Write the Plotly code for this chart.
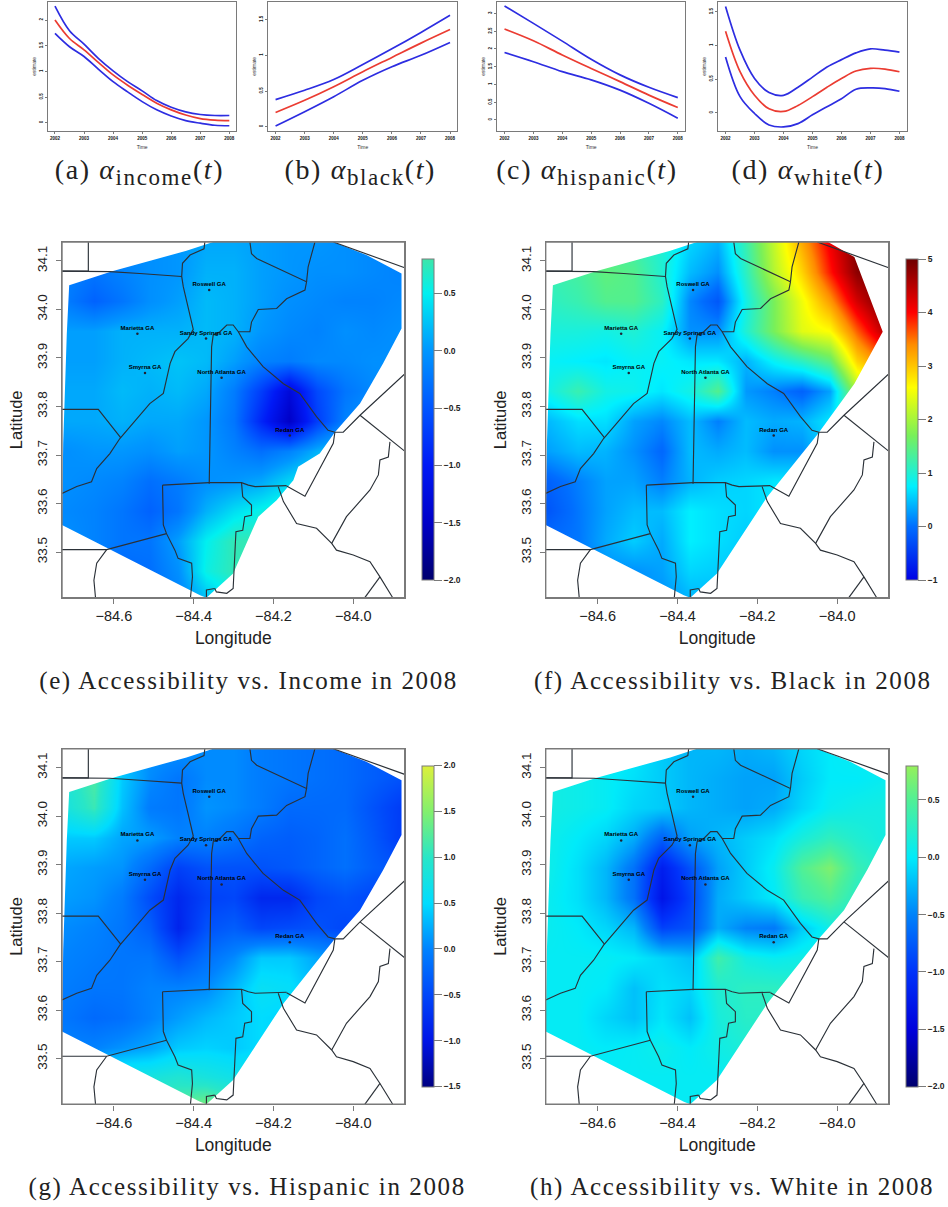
import plotly.graph_objects as go

# ---------------- top row: coefficient curves ----------------
years_half = [2002, 2002.5, 2003, 2003.5, 2004, 2004.5, 2005, 2005.5, 2006, 2006.5, 2007, 2007.5, 2008]
years = [2002, 2003, 2004, 2005, 2006, 2007, 2008]

income_upper = [2.27, 1.79, 1.53, 1.25, 1.01, .80, .62, .43, .30, .21, .16, .14, .14]
income_mean = [2.0, 1.64, 1.42, 1.17, .93, .73, .55, .38, .25, .15, .08, .05, .04]
income_lower = [1.74, 1.48, 1.29, 1.04, .80, .60, .41, .25, .13, .04, -.01, -.05, -.06]

black_upper = [.38, .51, .66, .87, 1.09, 1.32, 1.56]
black_mean = [.20, .37, .56, .77, .97, 1.17, 1.36]
black_lower = [.01, .21, .42, .65, .84, 1.0, 1.18]

hispanic_upper = [3.21, 2.72, 2.22, 1.71, 1.27, .92, .63]
hispanic_mean = [2.56, 2.23, 1.83, 1.45, 1.08, .70, .35]
hispanic_lower = [1.90, 1.64, 1.36, 1.13, .84, .47, .05]

white_upper = [1.58, .93, .51, .30, .26, .38, .53, .68, .79, .89, .95, .93, .90]
white_mean = [1.21, .61, .26, .06, .02, .11, .24, .38, .51, .62, .66, .65, .61]
white_lower = [.83, .24, -.01, -.18, -.21, -.16, -.03, .09, .21, .35, .37, .36, .32]

# ---------------- surfaces: values read on a coarse lon/lat grid ----------------
grid_lon = [-84.72, -84.65, -84.58, -84.51, -84.44, -84.37, -84.30, -84.23, -84.16, -84.09, -84.02, -83.95, -83.88]
grid_lat = [34.14, 34.078, 34.017, 33.955, 33.893, 33.832, 33.77, 33.708, 33.647, 33.585, 33.523, 33.462, 33.40]

z_income = [
    [-.05, -.1, -.1, -.05, 0, .1, .1, .05, 0, 0, -.05, -.1, -.15],
    [-.15, -.25, -.15, -.05, 0, .15, .15, .05, 0, -.05, -.05, -.1, -.15],
    [-.2, -.4, -.25, -.05, .05, .2, .15, .05, -.05, -.1, -.15, -.15, -.1],
    [.05, .05, .15, .15, .15, .2, .15, 0, -.1, -.15, -.05, -.1, -.05],
    [.05, .05, .15, .2, .25, .2, .05, -.15, -.2, -.1, -.1, -.05, -.05],
    [.1, .1, .2, .15, .2, .1, -.2, -.7, -1.3, -.6, -.25, -.1, .05],
    [.1, .1, .15, .1, .1, 0, -.25, -.9, -1.5, -.7, -.15, .05, .05],
    [-.05, 0, 0, -.05, .05, 0, -.15, -.3, -.15, .15, .35, .35, .35],
    [-.05, -.1, -.15, -.3, -.2, -.05, 0, .1, .35, .55, .55, .55, .55],
    [-.1, -.15, -.25, -.4, -.25, .15, .4, .55, .7, .75, .75, .75, .75],
    [-.05, -.15, -.25, -.25, .05, .5, .75, .75, .75, .75, .75, .75, .75],
    [-.05, -.15, -.35, -.3, -.05, .55, .75, .75, .75, .75, .75, .75, .75],
    [-.05, -.15, -.35, -.3, -.15, .2, .5, .75, .75, .75, .75, .75, .75],
]
z_black = [
    [1.3, 1.3, 1.3, 1.2, 1.0, .6, .4, 1.2, 2.2, 3.2, 4.1, 4.9, 5.0],
    [1.2, 1.3, 1.5, 1.4, 1.0, .45, .2, 1.1, 2.1, 2.9, 3.9, 4.8, 5.0],
    [1.1, 1.2, 1.4, 1.4, 1.1, .15, -.2, .9, 1.7, 2.5, 3.3, 4.3, 5.0],
    [.95, .95, .9, 1.0, .8, .2, .2, 1.0, 1.7, 2.4, 2.6, 3.6, 4.5],
    [.8, .75, .7, .8, .8, .7, .7, .4, .8, 1.1, 1.5, 2.9, 3.5],
    [.9, 1.2, .9, .85, .7, .9, 1.4, .25, .1, -.1, .3, 2.0, 2.4],
    [.45, .65, .65, .3, .15, .45, .1, .45, .35, .4, .7, 1.2, 1.5],
    [.3, .45, .4, .2, -.05, .45, .35, .45, .2, .2, .65, 1.0, 1.0],
    [-.1, .1, .3, .3, .1, .4, .55, .6, .7, .7, .7, .7, .7],
    [-.2, .05, .3, .45, .45, .75, .65, .6, .7, .7, .7, .7, .7],
    [0, .05, .35, .55, .35, .75, .65, .55, .6, .6, .6, .6, .6],
    [0, .05, .2, .2, .3, .6, .55, .5, .5, .5, .5, .5, .5],
    [.1, .1, .2, .2, .2, .4, .45, .5, .5, .5, .5, .5, .5],
]
z_hispanic = [
    [.8, 1.0, .3, .1, .1, .05, .05, -.05, -.1, -.15, -.2, -.3, -.4],
    [.9, 1.2, .4, .05, -.1, .05, .05, -.05, -.1, -.15, -.2, -.3, -.4],
    [.8, 1.1, .35, -.05, -.1, .1, .05, -.05, -.2, -.2, -.2, -.4, -.6],
    [.4, .4, .2, .15, 0, 0, -.1, -.25, -.3, -.25, -.15, -.35, -.6],
    [.2, .15, .1, -.2, -.55, -.4, -.4, -.4, -.35, -.25, -.15, -.3, -.4],
    [.15, .1, -.05, -.45, -.8, -.55, -.5, -.8, -.8, -.5, -.4, -.5, -.4],
    [.05, 0, -.1, -.3, -.85, -.4, -.3, -.5, -.45, -.4, -.5, -.4, -.3],
    [0, -.05, -.1, -.1, -.4, -.15, .05, .4, .4, .2, .1, .1, .1],
    [-.05, -.1, -.1, 0, 0, .05, .3, .6, .55, .3, .2, .2, .2],
    [-.1, -.2, -.15, 0, .15, .3, .4, .5, .45, .4, .4, .4, .4],
    [0, 0, .1, .2, .4, .45, .4, .5, .5, .5, .5, .5, .5],
    [.6, .6, .8, .8, .9, .8, .7, .8, .8, .8, .8, .8, .8],
    [1.0, 1.0, 1.2, 1.2, 1.3, 1.5, 1.2, 1.0, 1.0, 1.0, 1.0, 1.0, 1.0],
]
z_white = [
    [.12, .08, .03, 0, -.15, -.25, -.25, -.3, -.25, -.1, 0, .05, .05],
    [.12, .08, .03, -.05, -.15, -.25, -.3, -.35, -.35, -.15, 0, 0, .05],
    [.12, .08, .03, -.1, -.15, -.25, -.3, -.35, -.3, -.1, .05, .1, .12],
    [.08, 0, -.1, -.3, -.7, -.35, -.25, -.15, -.05, .15, .3, .2, .12],
    [.08, -.05, -.25, -.6, -1.2, -.8, -.35, -.15, .05, .5, .7, .35, .2],
    [.05, -.05, -.25, -.6, -1.3, -.9, -.3, -.15, 0, .35, .5, .25, .12],
    [.05, 0, -.1, -.25, -.9, -.8, -.3, -.5, -.55, -.15, .1, .12, .08],
    [.03, .03, .03, 0, -.1, -.2, .4, .12, .05, .1, .12, .12, .12],
    [.03, .03, 0, -.2, -.05, -.1, .2, .28, .28, .22, .22, .22, .22],
    [.03, .03, -.1, -.2, -.02, -.2, .15, .25, .25, .25, .25, .25, .25],
    [.03, .03, 0, .03, .08, 0, .1, .18, .22, .22, .22, .22, .22],
    [.03, .03, .03, .03, .03, .03, .03, .08, .12, .12, .12, .12, .12],
    [.03, .03, .03, .03, .03, .03, .03, .08, .12, .12, .12, .12, .12],
]

# outline of the region that has data
region_lon = [-84.712, -84.602, -84.418, -84.351, -84.050, -83.967, -83.879, -83.879, -83.925, -83.983, -84.046,
              -84.175, -84.301, -84.368, -84.384, -84.730, -84.727, -84.718]
region_lat = [34.050, 34.079, 34.121, 34.139, 34.139, 34.112, 34.074, 33.961, 33.889, 33.806, 33.747,
              33.614, 33.456, 33.406, 33.411, 33.556, 33.724, 33.950]
region_income_lon = [-84.712, -84.602, -84.418, -84.351, -84.050, -83.967, -83.879, -83.879, -83.925, -83.983, -84.046,
                     -84.084, -84.138, -84.150, -84.192, -84.238, -84.301, -84.368, -84.384, -84.730, -84.727, -84.718]
region_income_lat = [34.050, 34.079, 34.121, 34.139, 34.139, 34.112, 34.074, 33.961, 33.889, 33.806, 33.747,
                     33.703, 33.676, 33.648, 33.607, 33.573, 33.456, 33.406, 33.411, 33.556, 33.724, 33.950]
region_black_lon = [-84.712, -84.602, -84.418, -84.351, -84.023, -83.957, -83.886, -83.957, -84.048,
                    -84.175, -84.301, -84.368, -84.384, -84.730, -84.727, -84.718]
region_black_lat = [34.050, 34.079, 34.121, 34.139, 34.139, 34.108, 33.954, 33.847, 33.744,
                    33.614, 33.456, 33.406, 33.411, 33.556, 33.724, 33.950]

# county boundaries (lon, lat) as separate polylines
county_lines = [
    [(-84.664, 34.139), (-84.664, 34.079), (-84.730, 34.079)],
    [(-84.730, 34.079), (-84.610, 34.078), (-84.535, 34.074), (-84.430, 34.068)],
    [(-84.372, 34.139), (-84.374, 34.125), (-84.409, 34.112), (-84.428, 34.095), (-84.430, 34.068), (-84.426, 34.047),
     (-84.414, 34.005), (-84.401, 33.959), (-84.414, 33.940), (-84.447, 33.913), (-84.459, 33.889), (-84.468, 33.854),
     (-84.476, 33.827), (-84.510, 33.806), (-84.539, 33.779), (-84.568, 33.751), (-84.585, 33.734), (-84.610, 33.703),
     (-84.643, 33.672), (-84.656, 33.645), (-84.693, 33.635), (-84.730, 33.621)],
    [(-84.730, 33.794), (-84.639, 33.794), (-84.583, 33.736)],
    [(-84.259, 34.139), (-84.255, 34.115), (-84.242, 34.105), (-84.117, 34.057), (-84.121, 34.040), (-84.167, 34.022),
     (-84.192, 34.002), (-84.238, 34.000), (-84.255, 33.974), (-84.259, 33.954), (-84.288, 33.954), (-84.301, 33.968),
     (-84.317, 33.968), (-84.334, 33.954), (-84.351, 33.947), (-84.355, 33.923), (-84.361, 33.641)],
    [(-84.096, 34.139), (-84.113, 34.088), (-84.117, 34.057)],
    [(-84.050, 34.139), (-83.871, 34.086)],
    [(-84.288, 33.954), (-84.267, 33.923), (-84.226, 33.882), (-84.175, 33.847), (-84.134, 33.827), (-84.092, 33.779),
     (-84.063, 33.751), (-84.046, 33.747), (-84.025, 33.747), (-83.983, 33.782), (-83.871, 33.867)],
    [(-83.983, 33.782), (-83.871, 33.708)],
    [(-84.046, 33.747), (-84.050, 33.724), (-84.121, 33.615), (-84.167, 33.636)],
    [(-84.478, 33.638), (-84.361, 33.643), (-84.280, 33.643), (-84.263, 33.638), (-84.246, 33.635), (-84.167, 33.637)],
    [(-84.478, 33.638), (-84.476, 33.556), (-84.468, 33.538), (-84.447, 33.504), (-84.439, 33.487), (-84.405, 33.477),
     (-84.403, 33.449), (-84.408, 33.406)],
    [(-84.280, 33.643), (-84.277, 33.614), (-84.255, 33.597), (-84.255, 33.576), (-84.272, 33.573), (-84.277, 33.545),
     (-84.294, 33.542), (-84.297, 33.477), (-84.301, 33.425), (-84.317, 33.415), (-84.343, 33.418), (-84.347, 33.425)],
    [(-84.347, 33.425), (-84.368, 33.422), (-84.368, 33.406)],
    [(-84.730, 33.505), (-84.618, 33.505), (-84.468, 33.538)],
    [(-84.618, 33.505), (-84.643, 33.477), (-84.650, 33.442), (-84.646, 33.406)],
    [(-84.188, 33.635), (-84.175, 33.604), (-84.142, 33.559), (-84.092, 33.549), (-84.054, 33.518), (-84.042, 33.504),
     (-84.000, 33.494), (-83.958, 33.480), (-83.933, 33.449), (-83.901, 33.406)],
    [(-84.054, 33.518), (-84.017, 33.573), (-83.958, 33.628), (-83.937, 33.659), (-83.933, 33.690), (-83.912, 33.696),
     (-83.908, 33.727)],
    [(-83.933, 33.449), (-83.971, 33.406)],
]

city_names = ["Roswell GA", "Marietta GA", "Sandy Springs GA", "Smyrna GA", "North Atlanta GA", "Redan GA"]
city_lon = [-84.361, -84.541, -84.369, -84.522, -84.330, -84.159]
city_lat = [34.040, 33.950, 33.940, 33.869, 33.859, 33.740]

# colour bars: (value, colour) pairs
scale_income = [(-2.0, "rgb(0,0,110)"), (-1.5, "rgb(0,0,200)"), (-1.0, "rgb(0,25,245)"), (-0.5, "rgb(0,85,255)"),
                (0.0, "rgb(0,150,255)"), (0.5, "rgb(0,240,240)"), (0.8, "rgb(60,230,170)")]
scale_black = [(-1.0, "rgb(0,0,230)"), (0.0, "rgb(0,110,255)"), (0.75, "rgb(0,240,255)"), (1.7, "rgb(120,240,90)"),
               (2.6, "rgb(255,255,0)"), (3.4, "rgb(255,140,0)"), (4.0, "rgb(255,0,0)"), (5.0, "rgb(110,0,0)")]
scale_hispanic = [(-1.5, "rgb(0,0,130)"), (-1.0, "rgb(0,20,230)"), (-0.5, "rgb(0,70,250)"), (0.0, "rgb(0,130,255)"),
                  (0.5, "rgb(0,220,255)"), (1.0, "rgb(40,230,200)"), (1.5, "rgb(130,240,110)"), (2.0, "rgb(220,240,60)")]
scale_white = [(-2.0, "rgb(0,0,110)"), (-1.5, "rgb(0,0,220)"), (-1.0, "rgb(0,50,250)"), (-0.5, "rgb(0,130,250)"),
               (0.0, "rgb(0,235,250)"), (0.5, "rgb(80,240,150)"), (0.8, "rgb(150,240,90)")]

SUB = "<sub><span style='font-size:23px'>%s</span></sub>"
captions_top = ["(a) <i>α</i>" + SUB % "income" + "(<i>t</i>)", "(b) <i>α</i>" + SUB % "black" + "(<i>t</i>)",
                "(c) <i>α</i>" + SUB % "hispanic" + "(<i>t</i>)", "(d) <i>α</i>" + SUB % "white" + "(<i>t</i>)"]
captions_map = ["(e) Accessibility vs. Income in 2008", "(f) Accessibility vs. Black in 2008",
                "(g) Accessibility vs. Hispanic in 2008", "(h) Accessibility vs. White in 2008"]

# ---------------- layout helpers ----------------
W, H = 948, 1207
GREY = "#7a7a7a"
INK = "#222222"
SANS = "Liberation Sans"
SERIF = "Liberation Serif"


def px(x):
    return x / W


def py(y):
    return 1 - y / H


fig = go.Figure()
layout = dict(
    width=W, height=H, margin=dict(l=0, r=0, t=0, b=0), paper_bgcolor="white", plot_bgcolor="white",
    showlegend=False, annotations=[], shapes=[],
)


def axis_names(i):
    s = "" if i == 1 else str(i)
    return "x" + s, "y" + s, "xaxis" + s, "yaxis" + s


# top panels
panels = [
    (48.3, 236.0, years_half, income_upper, income_mean, income_lower, (2001.77, 2008.23), (-.162, 2.357), [0, .5, 1, 1.5, 2], 139),
    (268.3, 457.3, years, black_upper, black_mean, black_lower, (2001.75, 2008.25), (-.06, 1.75), [0, .5, 1, 1.5], 360),
    (497.3, 685.0, years, hispanic_upper, hispanic_mean, hispanic_lower, (2001.75, 2008.25), (-.31, 3.33), [0, .5, 1, 1.5, 2, 2.5, 3], 587),
    (718.3, 906.7, years_half, white_upper, white_mean, white_lower, (2001.75, 2008.25), (-.27, 1.65), [0, .5, 1, 1.5], 808),
]
for i, (x0, x1, t, up, mid, lo, xr, yr, yt, cx) in enumerate(panels):
    xn, yn, xa, ya = axis_names(i + 1)
    for vals, col in ((up, "rgb(45,45,225)"), (lo, "rgb(45,45,225)"), (mid, "rgb(235,60,50)")):
        fig.add_trace(go.Scatter(x=t, y=vals, mode="lines", xaxis=xn, yaxis=yn, hoverinfo="skip",
                                 line=dict(color=col, width=1.7, shape="spline", smoothing=1.0)))
    layout[xa] = dict(domain=[px(x0), px(x1)], range=list(xr), anchor=yn, tickvals=years, mirror=True, showline=True,
                      linecolor=GREY, linewidth=1.4, ticks="outside", ticklen=2, tickcolor=GREY, showgrid=False,
                      zeroline=False, tickfont=dict(size=4.5, color="#111", family=SANS, weight=700),
                      title=dict(text="Time", font=dict(size=5, color="#333", family=SANS), standoff=5))
    layout[ya] = dict(domain=[py(131), py(1.7)], range=list(yr), anchor=xn, tickvals=yt, mirror=True, showline=True,
                      linecolor=GREY, linewidth=1.4, ticks="outside", ticklen=2, tickcolor=GREY, showgrid=False,
                      zeroline=False, tickangle=-90, tickfont=dict(size=4.5, color="#111", family=SANS, weight=700),
                      title=dict(text="estimate", font=dict(size=5, color="#333", family=SANS), standoff=2))
    layout["annotations"].append(dict(text=captions_top[i], x=px(cx), y=py(172), xref="paper", yref="paper",
                                      showarrow=False, xanchor="center", yanchor="middle",
                                      font=dict(family=SERIF, size=28, color=INK)))

# maps
X_RANGE = [-84.730, -83.871]
Y_RANGE = [33.406, 34.139]
maps = [
    (62.0, 404.7, 242.0, 597.7, z_income, scale_income, 422.0, 259.3, 580.0, 0.5, region_income_lon, region_income_lat, 248.5, 681),
    (545.7, 888.7, 242.0, 597.7, z_black, scale_black, 906.3, 259.3, 580.0, 1.0, region_black_lon, region_black_lat, 732.5, 681),
    (62.0, 404.7, 748.7, 1104.3, z_hispanic, scale_hispanic, 422.0, 766.0, 1086.5, 0.5, region_lon, region_lat, 247, 1187),
    (545.7, 888.7, 748.7, 1104.3, z_white, scale_white, 906.3, 766.0, 1086.5, 0.5, region_lon, region_lat, 732, 1187),
]
for i, (x0, x1, y0, y1, z, sc, cbx, cbt, cbb, dt, rlon, rlat, cx, cy) in enumerate(maps):
    xn, yn, xa, ya = axis_names(i + 5)
    zmin, zmax = sc[0][0], sc[-1][0]
    cs = [[(v - zmin) / (zmax - zmin), c] for v, c in sc]
    fig.add_trace(go.Heatmap(
        x=grid_lon, y=grid_lat, z=z, xaxis=xn, yaxis=yn, zmin=zmin, zmax=zmax, colorscale=cs, zsmooth="best",
        hoverinfo="skip",
        colorbar=dict(x=px(cbx), xanchor="left", xpad=0, y=py(cbb), yanchor="bottom", ypad=0, len=(cbb - cbt) / H,
                      thickness=12, outlinecolor=GREY, outlinewidth=1, ticks="outside", ticklen=8, tickcolor=GREY,
                      tick0=zmin, dtick=dt, tickfont=dict(size=8.5, family=SANS, color=INK, weight=700),
                      tickformat=".1f" if dt == 0.5 else "d"),
    ))
    # white mask outside the data region: outer rectangle, then the region traversed the other way round
    d = 0.02
    mx = [X_RANGE[0] - d, X_RANGE[0] - d, X_RANGE[1] + d, X_RANGE[1] + d, X_RANGE[0] - d] + rlon + [rlon[0], X_RANGE[0] - d]
    my = [Y_RANGE[1] + d, Y_RANGE[0] - d, Y_RANGE[0] - d, Y_RANGE[1] + d, Y_RANGE[1] + d] + rlat + [rlat[0], Y_RANGE[1] + d]
    fig.add_trace(go.Scatter(x=mx, y=my, mode="lines", fill="toself", fillcolor="white", xaxis=xn, yaxis=yn,
                             line=dict(width=0, color="white"), hoverinfo="skip"))
    lx, ly = [], []
    for seg in county_lines:
        lx += [p[0] for p in seg] + [None]
        ly += [p[1] for p in seg] + [None]
    fig.add_trace(go.Scatter(x=lx, y=ly, mode="lines", xaxis=xn, yaxis=yn, hoverinfo="skip",
                             line=dict(color="#2b3138", width=1.15)))
    fig.add_trace(go.Scatter(x=city_lon, y=city_lat, mode="markers+text", text=city_names, textposition="top center",
                             xaxis=xn, yaxis=yn, hoverinfo="skip", marker=dict(size=2.5, color="#223"),
                             textfont=dict(size=6, family=SANS, color="black", weight=700)))
    layout[xa] = dict(domain=[px(x0), px(x1)], range=X_RANGE, anchor=yn, tickvals=[-84.6, -84.4, -84.2, -84.0],
                      ticktext=["−84.6", "−84.4", "−84.2", "−84.0"], mirror=True, showline=True, linecolor=GREY,
                      linewidth=1.4, ticks="outside", ticklen=5, tickcolor=GREY, showgrid=False, zeroline=False,
                      tickfont=dict(size=14.5, color=INK, family=SANS),
                      title=dict(text="Longitude", font=dict(size=17.5, color=INK, family=SANS), standoff=8))
    layout[ya] = dict(domain=[py(y1), py(y0)], range=Y_RANGE, anchor=xn, tickvals=[33.5, 33.6, 33.7, 33.8, 33.9, 34.0, 34.1],
                      tickformat=".1f", mirror=True, showline=True, linecolor=GREY, linewidth=1.4, ticks="outside",
                      ticklen=5, tickcolor=GREY, showgrid=False, zeroline=False, tickangle=-90, ticklabelstandoff=3,
                      tickfont=dict(size=13.5, color=INK, family=SANS),
                      title=dict(text="Latitude", font=dict(size=16.5, color=INK, family=SANS), standoff=8))
    layout["shapes"].append(dict(type="rect", xref=xn + " domain", yref=yn + " domain", x0=0, x1=1, y0=0, y1=1,
                                 line=dict(color=GREY, width=1.4), layer="above"))
    layout["annotations"].append(dict(text=captions_map[i], x=px(cx), y=py(cy), xref="paper", yref="paper",
                                      showarrow=False, xanchor="center", yanchor="middle",
                                      font=dict(family=SERIF, size=25, color=INK)))

fig.update_layout(**layout)
fig.write_html("out.html", config={"displayModeBar": False},
               post_script="document.body.style.margin='0';"
                           "document.querySelectorAll('.annotation-text').forEach(function(t){t.style.letterSpacing='1.6px';});")
